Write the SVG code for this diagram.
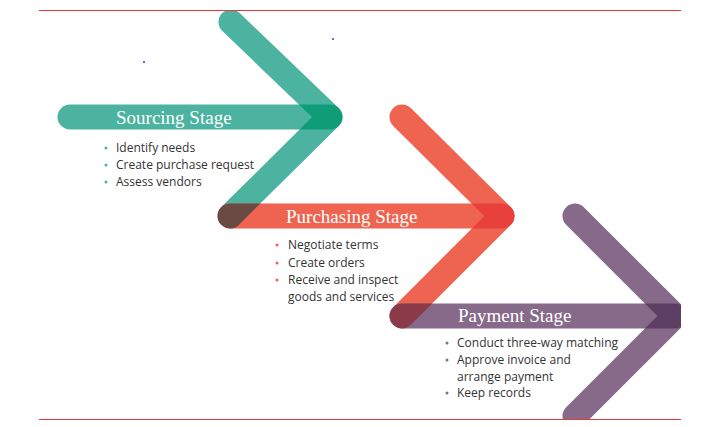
<svg xmlns="http://www.w3.org/2000/svg" width="718" height="427" viewBox="0 0 718 427">
<defs>
<style>
.band{fill:none;stroke-width:25;stroke-linecap:round;stroke-linejoin:round}
.teal{stroke:#4bb39f}
.red{stroke:#ee6450}
.purple{stroke:#87698a}
.mk{fill:none;stroke:#ffffff;stroke-width:25;stroke-linecap:round;stroke-linejoin:round}
.title{font-family:"Liberation Serif",serif;font-size:19px;fill:#ffffff}
.item{font-family:"Open Sans","Noto Sans",sans-serif;font-size:12px;fill:#333333}
.rule{stroke:#e8383a;stroke-width:1}
</style>
<clipPath id="frame"><rect x="39" y="10" width="642" height="409"/></clipPath>
<mask id="mTeal" maskUnits="userSpaceOnUse" x="0" y="0" width="718" height="427"><polyline class="mk" points="231,22 330,117 230,216"/></mask>
<mask id="mRed" maskUnits="userSpaceOnUse" x="0" y="0" width="718" height="427"><polyline class="mk" points="402,117 502,216 402,316"/></mask>
<mask id="mPurple" maskUnits="userSpaceOnUse" x="0" y="0" width="718" height="427"><polyline class="mk" points="575,216 675,316 575,416"/></mask>
</defs>
<rect width="718" height="427" fill="#ffffff"/>
<g clip-path="url(#frame)">
<g id="connectors">
<polyline class="band teal" points="231,22 330,117 230,216"/>
<polyline class="band red" points="402,117 502,216 402,316"/>
<polyline class="band purple" points="575,216 675,316 575,416"/>
</g>
<g id="sourcing">
<line class="band teal" x1="70" y1="117" x2="330" y2="117"/>
<line class="band" stroke="#0f9d78" x1="70" y1="117" x2="330" y2="117" mask="url(#mTeal)"/>
</g>
<g id="purchasing">
<line class="band red" x1="230" y1="216" x2="502" y2="216"/>
<line class="band" stroke="#6b4a44" x1="230" y1="216" x2="502" y2="216" mask="url(#mTeal)"/>
<line class="band" stroke="#e8403a" x1="230" y1="216" x2="502" y2="216" mask="url(#mRed)"/>
</g>
<g id="payment">
<line class="band purple" x1="402" y1="316" x2="675" y2="316"/>
<line class="band" stroke="#8b3a4a" x1="402" y1="316" x2="675" y2="316" mask="url(#mRed)"/>
<line class="band" stroke="#5c3f62" x1="402" y1="316" x2="675" y2="316" mask="url(#mPurple)"/>
</g>
</g>
<g id="sourcing-text">
<text class="title" x="116" y="124">Sourcing Stage</text>
<circle cx="106" cy="148" r="1.5" fill="#4bb39f"/>
<circle cx="106" cy="165" r="1.5" fill="#4bb39f"/>
<circle cx="106" cy="182" r="1.5" fill="#4bb39f"/>
<text class="item" x="116" y="152">Identify needs</text>
<text class="item" x="116" y="169">Create purchase request</text>
<text class="item" x="116" y="186">Assess vendors</text>
</g>
<g id="purchasing-text">
<text class="title" x="286" y="223">Purchasing Stage</text>
<circle cx="277" cy="245" r="1.5" fill="#ee6450"/>
<circle cx="277" cy="263" r="1.5" fill="#ee6450"/>
<circle cx="277" cy="280" r="1.5" fill="#ee6450"/>
<text class="item" x="288" y="249">Negotiate terms</text>
<text class="item" x="288" y="267">Create orders</text>
<text class="item" x="288" y="284">Receive and inspect</text>
<text class="item" x="288" y="300.5">goods and services</text>
</g>
<g id="payment-text">
<text class="title" x="458" y="322">Payment Stage</text>
<circle cx="447" cy="343" r="1.5" fill="#87698a"/>
<circle cx="447" cy="360" r="1.5" fill="#87698a"/>
<circle cx="447" cy="393" r="1.5" fill="#87698a"/>
<text class="item" x="457" y="347">Conduct three-way matching</text>
<text class="item" x="457" y="364">Approve invoice and</text>
<text class="item" x="457" y="380.5">arrange payment</text>
<text class="item" x="457" y="397">Keep records</text>
</g>
<line class="rule" x1="39" y1="10.5" x2="681" y2="10.5"/>
<line class="rule" x1="39" y1="419.5" x2="681" y2="419.5"/>
<circle cx="144" cy="62" r="0.9" fill="#2020ff"/>
<circle cx="333" cy="39" r="0.9" fill="#2020ff"/>
</svg>
